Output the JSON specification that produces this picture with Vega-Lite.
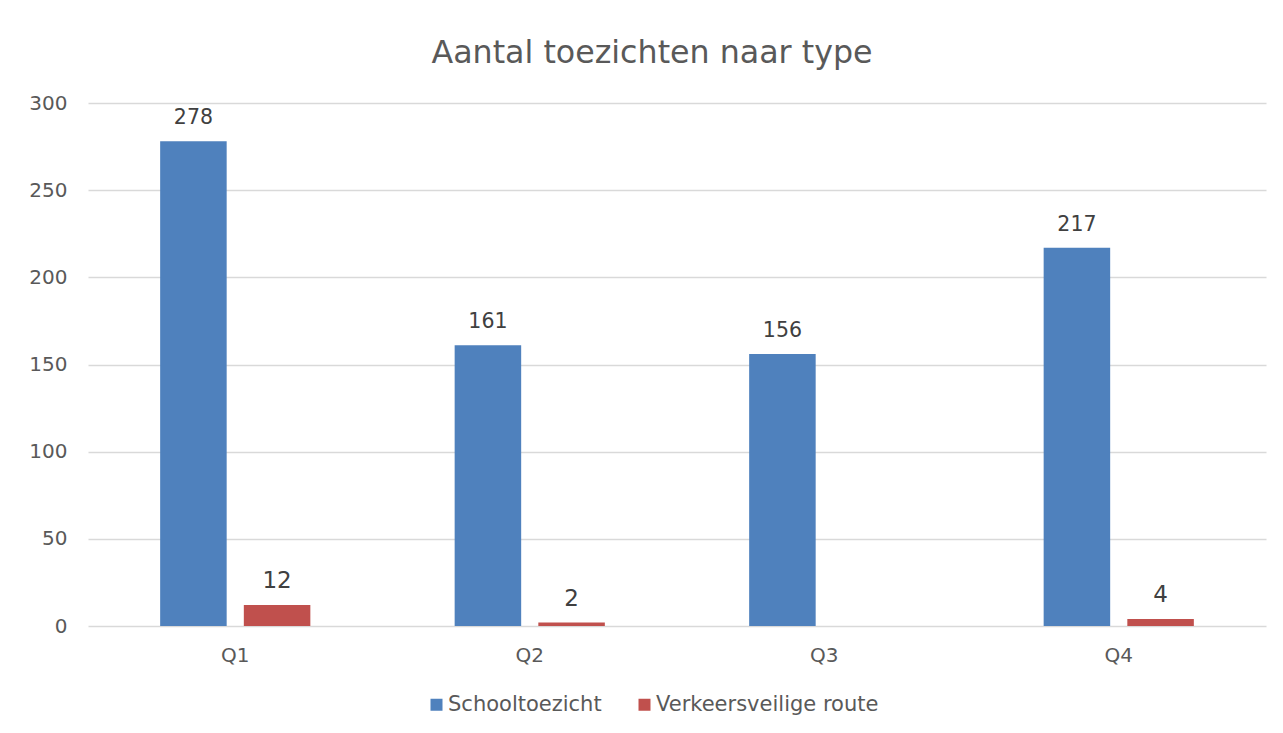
{
  "$schema": "https://vega.github.io/schema/vega-lite/v6.json",
  "width": 1178,
  "height": 523,
  "autosize": {"type": "none"},
  "padding": {"left": 88, "top": 103, "right": 17, "bottom": 107},
  "background": "white",
  "config": {"font": "DejaVu Sans", "view": {"stroke": null}},
  "title": {
    "text": "Aantal toezichten naar type",
    "fontSize": 31.7,
    "font": "DejaVu Sans",
    "fontWeight": "normal",
    "color": "#595959",
    "dx": -25,
    "offset": -2,
    "baseline": "alphabetic"
  },
  "data": {
    "values": [
      {"kwartaal": "Q1", "type": "Schooltoezicht", "aantal": 278},
      {"kwartaal": "Q1", "type": "Verkeersveilige route", "aantal": 12},
      {"kwartaal": "Q2", "type": "Schooltoezicht", "aantal": 161},
      {"kwartaal": "Q2", "type": "Verkeersveilige route", "aantal": 2},
      {"kwartaal": "Q3", "type": "Schooltoezicht", "aantal": 156},
      {"kwartaal": "Q4", "type": "Schooltoezicht", "aantal": 217},
      {"kwartaal": "Q4", "type": "Verkeersveilige route", "aantal": 4}
    ]
  },
  "encoding": {
    "x": {
      "field": "kwartaal",
      "type": "nominal",
      "sort": ["Q1", "Q2", "Q3", "Q4"],
      "scale": {"paddingInner": 0.49, "paddingOuter": 0.245},
      "axis": {
        "title": null,
        "labelAngle": 0,
        "domain": false,
        "ticks": false,
        "labelPadding": 19,
        "labelFontSize": 20,
        "labelColor": "#595959",
        "labelFont": "DejaVu Sans"
      }
    },
    "xOffset": {
      "field": "type",
      "type": "nominal",
      "sort": ["Schooltoezicht", "Verkeersveilige route"],
      "scale": {"paddingInner": 0.205, "paddingOuter": 0}
    },
    "y": {
      "field": "aantal",
      "type": "quantitative",
      "scale": {"domain": [0, 300], "nice": false},
      "axis": {
        "title": null,
        "values": [0, 50, 100, 150, 200, 250, 300],
        "grid": true,
        "gridColor": "#d9d9d9",
        "gridWidth": 1.5,
        "domain": false,
        "ticks": false,
        "labelPadding": 21,
        "labelFontSize": 20,
        "labelColor": "#595959",
        "labelFont": "DejaVu Sans"
      }
    }
  },
  "layer": [
    {
      "mark": {"type": "bar"},
      "encoding": {
        "color": {
          "field": "type",
          "type": "nominal",
          "scale": {"domain": ["Schooltoezicht", "Verkeersveilige route"], "range": ["#4f81bd", "#c0504d"]},
          "legend": {
            "title": null,
            "orient": "none",
            "legendX": 338,
            "legendY": 591,
            "direction": "horizontal",
            "symbolType": "square",
            "symbolSize": 144,
            "symbolStrokeWidth": 0,
            "labelFontSize": 21,
            "labelColor": "#595959",
            "labelFont": "DejaVu Sans",
            "labelOffset": 1,
            "labelLimit": 0,
            "columnPadding": 32
          }
        }
      }
    },
    {
      "mark": {"type": "text", "baseline": "alphabetic", "dy": -17, "color": "#404040", "font": "DejaVu Sans"},
      "encoding": {
        "text": {"field": "aantal", "type": "quantitative"},
        "size": {
          "condition": {"test": "datum.type === 'Verkeersveilige route'", "value": 23},
          "value": 20.5
        }
      }
    }
  ]
}
